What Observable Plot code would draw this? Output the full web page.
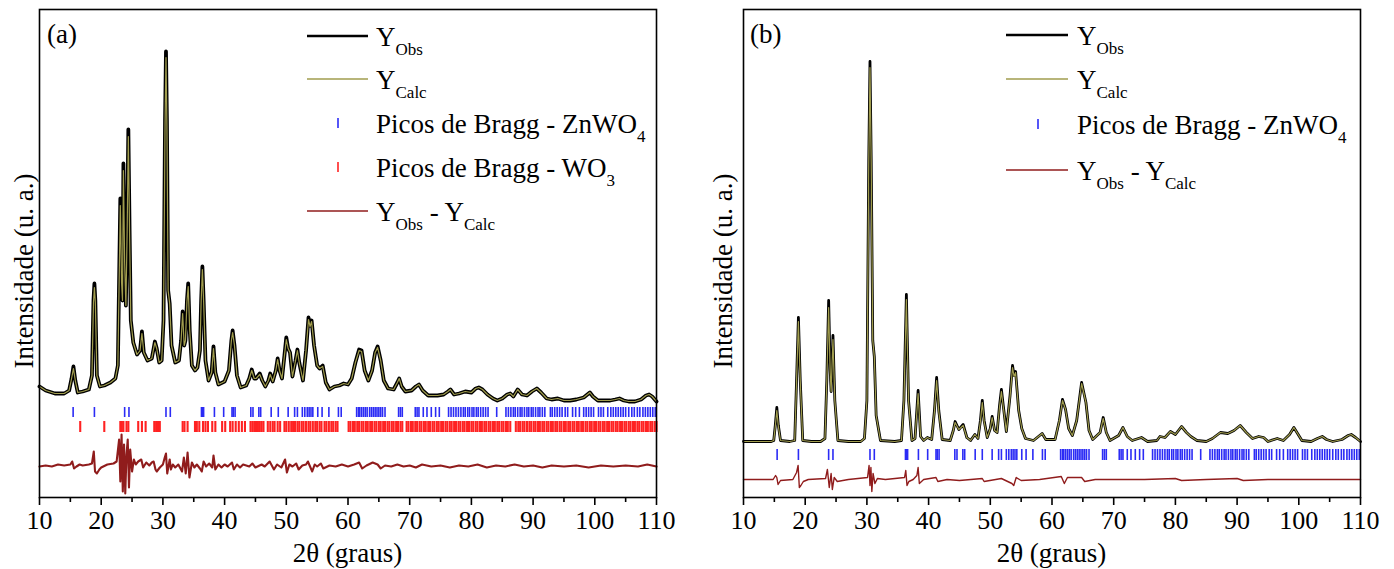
<!DOCTYPE html>
<html><head><meta charset="utf-8">
<script src="https://cdn.jsdelivr.net/npm/d3@7"></script>
<script src="https://cdn.jsdelivr.net/npm/@observablehq/plot@0.6"></script>
<style>
body{margin:0;background:#fff;}
#wrap{display:flex;width:1394px;height:569px;overflow:hidden;}
</style></head><body><div id="wrap"></div>
<script>
// ---------- data ----------
const majorTicks = [10,20,30,40,50,60,70,80,90,100,110];
const minorTicks = [15,25,35,45,55,65,75,85,95,105];

// Panel (a): 2theta (degrees) and intensities (a.u.)
const twoThetaA = [10,11,12.5,14,14.8,15.2,15.5,15.8,16.2,17,
18,18.5,18.75,18.9,19.05,19.3,19.8,20.5,21.5,22.3,
22.7,22.95,23.1,23.3,23.45,23.6,23.8,24,24.2,24.4,
24.6,24.8,25.2,25.8,26.3,26.6,26.9,27.5,28.2,28.5,
28.7,29,29.4,29.8,30.1,30.35,30.5,30.65,30.85,31.1,
31.4,32,32.6,32.95,33.2,33.45,33.65,33.9,34.1,34.35,
34.7,35.2,35.6,36,36.2,36.4,36.6,36.9,37.4,37.9,
38.2,38.5,39,40,40.7,41.1,41.3,41.6,42,42.6,
43.5,44,44.4,44.8,45.1,45.7,46.1,46.6,47.1,47.4,
47.8,48.3,48.6,48.9,49.3,49.7,50,50.3,50.6,51,
51.5,51.8,52.1,52.7,53.2,53.6,53.85,54.1,54.5,55,
55.4,55.9,56.4,57,57.8,58.6,59.3,60,60.6,61.2,
61.8,62.2,62.7,63.3,63.9,64.4,64.8,65.3,65.8,66.5,
67.4,68,68.3,68.7,69.3,70.3,71,71.5,72.1,73,
74.5,75.5,76.2,76.6,77.2,78,79,80,80.7,81.2,
81.8,82.6,83.5,84.2,85,85.8,86.3,86.8,87.5,88.2,
89,89.8,90.6,91.3,92.2,93,94,95,96,97,
98.2,98.8,99.2,99.7,100.5,101.5,102.5,103.3,104,104.7,
105.5,106.5,107.5,108.3,108.8,109.3,110];
const yObsA = [111,107,104,104,107,119,131,117,105,106,
108,122,197,214,197,122,111,112,115,119,
132,237,299,217,197,334,237,192,267,368,
267,177,155,143,147,166,145,137,139,149,
156,149,135,137,177,377,446,377,207,194,
152,135,137,157,186,152,157,197,214,167,
132,127,130,147,197,231,197,137,117,125,
151,125,113,116,127,157,167,152,122,110,
112,119,128,119,119,124,117,111,117,124,
116,127,139,127,119,142,160,149,145,121,
137,148,135,117,147,180,172,177,152,132,
129,132,115,108,111,112,114,113,119,135,
148,147,127,117,127,145,151,137,117,109,
108,115,119,111,106,107,111,113,107,102,
102,103,106,108,103,104,106,105,109,110,
108,103,99,97,99,103,104,101,108,103,
102,106,109,105,99,98,99,97,97,98,
100,103,105,101,97,97,97,98,99,97,
96,96,98,102,103,101,96];
const yCalcA = [111,107,104,104,107,119,129,117,105,106,
108,122,195,210,195,122,111,112,115,119,
132,233,292,215,197,327,235,192,264,361,
264,177,155,143,147,164,145,137,139,149,
155,149,135,137,177,372,440,372,207,194,
152,135,137,157,184,152,157,196,211,167,
132,127,130,147,196,228,196,137,117,125,
149,125,113,116,127,157,165,152,122,110,
112,119,127,119,119,123,117,111,117,123,
116,127,138,127,119,142,158,149,145,121,
137,147,135,117,147,178,171,176,152,132,
129,131,115,108,111,112,114,113,119,135,
147,146,127,117,127,145,150,137,117,109,
108,115,119,111,106,107,111,113,107,102,
102,103,106,108,103,104,106,105,109,110,
108,103,99,97,99,103,104,101,108,103,
102,106,109,105,99,98,99,97,97,98,
100,103,105,101,97,97,97,98,99,97,
96,96,98,102,103,101,96];
const diffThetaA = [10,11,12,13,14,15,15.3,15.6,16,16.5,
17,18,18.5,18.8,19,19.3,19.7,20,21,22,
22.5,22.9,23.1,23.3,23.5,23.7,23.9,24.1,24.3,24.5,
24.7,25,25.3,25.6,26,26.5,26.8,27.3,27.8,28.2,
28.5,28.8,29,29.5,30,30.3,30.5,30.7,31.1,31.3,
31.6,32,32.5,33.1,33.4,33.7,34,34.3,34.7,35.1,
35.5,36,36.3,36.6,37,37.5,38,38.2,38.5,39,
39.5,40,40.5,41.2,41.5,42,42.5,43,44,44.5,
45,46,46.5,47.3,48,48.5,49.2,49.8,50.1,50.5,
51,51.6,52,52.6,53.2,53.5,54.2,54.6,55,55.6,
56,57,58,59,60,61,61.8,62.3,63,64,
64.8,65.3,66,67,68,69,70,71,72,73.5,
75,76.5,78,79.5,81,82.5,84,85.5,87,88.5,
90,91.5,93,95,97,99,101,103,105,107,
108.5,110];
const diffA = [31,32,31,33,32,33,36,29,31,33,
32,33,34,46,26,24,28,30,33,34,
36,58,16,63,6,53,4,43,58,10,
48,26,38,33,36,38,30,35,32,35,
36,28,26,30,33,40,44,24,38,28,
33,30,33,26,40,24,45,20,35,30,
33,29,26,36,31,34,30,42,28,33,
30,33,31,35,28,33,30,33,31,34,
30,33,31,36,28,33,30,38,25,33,
31,34,28,32,33,36,26,33,31,34,
29,32,31,33,31,33,35,29,32,35,
33,29,32,31,33,31,32,30,33,31,
32,30,32,31,33,30,32,31,33,31,
32,30,32,31,32,30,32,31,32,31,
33,31];

// Panel (b)
const twoThetaB = [10,12,14.5,14.9,15.15,15.4,15.65,16,17.5,18.3,
18.6,18.9,19.2,19.6,21,22.5,23.2,23.5,23.8,24.05,
24.2,24.5,24.8,25.3,27,29,29.6,30,30.3,30.5,
30.7,30.95,31.2,31.5,32.2,34.5,35.6,36,36.4,36.75,
37.3,37.8,38.3,38.7,39.2,39.8,40.5,40.95,41.3,41.65,
42.2,43.5,44,44.3,44.9,45.6,46.2,46.8,47.5,48,
48.4,48.7,49,49.5,50,50.3,50.7,51.1,51.5,51.8,
52.1,52.6,53.2,53.6,53.85,54.1,54.6,55.1,55.7,57,
58.4,59,60.5,61.2,61.7,62.2,62.7,63.3,64,64.8,
65.5,66,66.6,67.8,68.3,68.8,69.4,70.8,71.5,72.2,
73,74.5,75.5,77,77.5,78.3,79.2,80,81,81.8,
82.5,83.5,85,86,87.3,88.5,89.5,90.5,91.5,92.5,
93.5,94.3,95,96.5,97.5,98.5,99.2,99.8,100.5,102,
103,103.8,104.5,105.5,107,108,108.5,109.2,110];
const yObsB = [56,56,56,57,72,90,72,57,56,57,
117,180,117,57,56,56,59,117,197,127,
106,162,97,57,56,56,59,97,337,436,
337,157,141,82,57,56,57,97,203,97,
57,59,107,61,57,60,58,87,120,87,
58,57,67,76,68,73,60,57,63,59,
77,97,77,60,69,81,67,65,92,108,
92,66,102,132,122,126,87,69,59,57,
64,58,58,77,98,88,69,62,77,115,
95,67,58,65,80,65,57,62,70,61,
57,60,56,57,61,60,66,63,71,65,
61,57,56,59,65,64,67,72,65,59,
61,60,56,59,57,63,70,64,57,56,
59,61,58,56,58,62,63,60,56];
const yCalcB = [56,56,56,57,71,87,71,57,56,57,
116,176,116,57,56,56,59,116,190,125,
106,158,97,57,56,56,59,97,333,430,
333,157,141,82,57,56,57,96,198,96,
57,59,104,61,57,60,58,86,117,86,
58,57,67,75,68,72,60,57,63,59,
76,95,76,60,69,80,67,65,91,106,
91,66,101,130,121,125,87,69,59,57,
64,58,58,77,97,88,69,62,77,114,
95,67,58,65,79,65,57,62,70,61,
57,60,56,57,61,60,66,63,71,65,
61,57,56,59,65,64,67,72,65,59,
61,60,56,59,57,63,70,64,57,56,
59,61,58,56,58,62,63,60,56];
const diffThetaB = [10,14.8,15.2,15.4,15.6,16,18,18.6,18.85,19.05,
19.3,19.7,20.5,23.3,23.6,23.9,24.2,24.4,24.7,25.2,
27,30.1,30.35,30.5,30.65,30.8,31,31.3,31.7,33,
36.1,36.3,36.5,36.8,37.5,38.1,38.3,38.5,39.2,41.2,
41.5,43,45,48.7,49,51.8,53.5,53.8,54.2,55,
58,61.5,62,62.5,64.8,65.3,67,70,75,80,
81,85,90,91,95,100,105,110];
const diffB = [18,18,22,20,13,17,18,25,32,10,
12,16,18,19,28,10,24,8,20,16,
18,20,32,12,30,6,24,14,19,18,
20,27,12,16,18,22,30,14,18,20,
16,18,17,19,16,19,14,12,20,17,
18,21,14,20,20,16,18,18,18,19,
17,18,19,17,18,18,18,18];

// Bragg reflection positions (2theta)
const braggZnWO4 = [15.45,18.9,23.8,24.5,30.5,31.2,36.25,36.45,36.6,38.35,39.85,41.2,41.4,41.7,44.25,44.6,45.55,45.85,47.55,48.7,
50.3,51.35,51.8,52.6,53.0,53.4,53.7,54.0,54.3,55.1,55.8,56.9,58.45,58.9,61.4,61.7,61.9,62.2,62.5,62.8,
63.1,63.5,63.8,64.1,64.4,64.7,65.0,65.3,65.6,66.0,68.2,68.5,68.8,70.9,71.2,71.5,72.2,72.8,73.5,74.2,
74.8,76.3,76.7,77.1,77.5,77.9,78.3,78.7,79.0,79.4,79.7,80.1,80.4,80.8,81.1,81.5,81.9,82.3,82.7,84.1,
85.6,86.0,86.4,86.8,87.1,87.5,87.9,88.2,88.6,89.0,89.3,89.7,90.0,90.4,90.8,91.1,91.5,91.9,92.8,93.1,
93.5,93.9,94.3,94.7,95.2,95.6,96.4,96.9,97.5,98.2,98.6,99.0,99.4,99.8,100.6,101.0,101.4,102.1,102.6,103.0,
103.4,103.8,104.2,104.6,105.0,105.5,106.0,106.4,106.9,107.3,107.8,108.2,108.6,109.0,109.4,109.8];
const braggWO3 = [16.6,20.5,23.1,23.35,23.6,24.1,24.4,26.0,26.6,27.2,28.6,28.9,29.2,29.5,33.2,33.5,34.0,
35.2,35.5,35.9,36.5,36.9,37.3,38.0,38.5,39.6,40.1,40.9,41.3,41.8,42.3,42.8,43.3,
44.2,44.5,44.8,45.1,45.4,45.7,46.0,46.3,47.0,47.4,47.8,48.1,48.6,49.0,49.7,50.0,50.4,50.8,51.1,51.4,
51.8,52.1,52.5,52.8,53.2,53.6,53.9,54.3,54.7,55.0,55.4,55.7,56.2,56.5,56.9,57.3,57.6,58.0,58.3,
60.1,60.4,60.8,61.1,61.5,61.8,62.2,62.5,62.9,63.2,63.6,63.9,64.3,64.6,65.0,65.3,65.7,66.0,66.4,66.7,
67.1,67.4,67.8,68.1,68.5,68.8,69.5,69.8,70.2,70.5,70.9,71.2,71.6,71.9,72.3,72.6,73.0,73.3,73.7,74.0,
74.4,74.7,75.1,75.4,75.8,76.1,76.5,76.8,77.2,77.5,77.9,78.2,78.6,78.9,79.3,79.6,80.0,80.3,80.7,81.0,
81.4,81.7,82.1,82.4,82.8,83.1,83.5,83.8,84.2,84.5,84.9,85.2,85.6,85.9,86.3,87.2,87.6,87.9,88.3,88.6,
89.0,89.4,89.7,90.1,90.4,90.8,91.1,91.5,91.8,92.2,92.5,92.9,93.2,93.6,93.9,94.3,94.6,95.0,95.3,95.7,
96.0,96.4,96.7,97.1,97.4,97.8,98.1,98.5,98.8,99.2,99.5,99.9,100.2,100.6,100.9,101.3,101.6,102.0,102.3,102.7,
103.0,103.4,103.7,104.1,104.4,104.8,105.1,105.5,105.8,106.2,106.5,106.9,107.2,107.6,107.9,108.3,108.6,109.0,109.3,109.7,110.0];

const legendLabels = {
  obs: [["Y"],["Obs",1]],
  calc: [["Y"],["Calc",1]],
  zn: [["Picos de Bragg - ZnWO"],["4",1]],
  wo: [["Picos de Bragg - WO"],["3",1]],
  diff: [["Y"],["Obs",1],[" - Y"],["Calc",1]]
};

// ---------- drawing ----------
const FONT = "'Liberation Serif', 'Times New Roman', 'DejaVu Serif', serif";
const OBS = "#000", CALC = "#a19d4e", DIFF = "#901c1c", BLUE = "#2b2bf5", RED = "#ff2222";

function drawPanel(cfg) {
  const W = 697, H = 569;
  const curve = cfg.tt.map((x, i) => ({x, obs: cfg.obs[i], calc: cfg.calc[i]}));
  const diff = cfg.dX.map((x, i) => ({x, y: cfg.dY[i]}));
  const marks = [];
  for (const ph of cfg.phases) marks.push(Plot.ruleX(ph.pos, {y1: ph.y1, y2: ph.y2, stroke: ph.color, strokeWidth: ph.w}));
  marks.push(Plot.line(diff, {x: "x", y: "y", stroke: DIFF, strokeWidth: cfg.diffW}));
  marks.push(Plot.line(curve, {x: "x", y: "obs", stroke: OBS, strokeWidth: cfg.obsW}));
  marks.push(Plot.line(curve, {x: "x", y: "calc", stroke: CALC, strokeWidth: 1.2}));
  marks.push(Plot.frame({stroke: "#000", strokeWidth: 1.6}));
  marks.push(Plot.axisX({ticks: majorTicks, tickSize: 8, tickPadding: 5, fontSize: 26, tickFormat: d => String(d), label: null, strokeWidth: 1.6}));
  marks.push(Plot.axisX({ticks: minorTicks, tickSize: 5, tickFormat: () => "", label: null, strokeWidth: 1.6}));
  const svg = Plot.plot({
    width: W, height: H, marginTop: 9, marginBottom: 72, marginLeft: cfg.ml, marginRight: cfg.mr,
    x: {domain: [10, 110]}, y: {domain: [0, 488], axis: null},
    style: {color: "#000", background: "#fff", overflow: "visible"},
    marks
  });
  const s = d3.select(svg);
  const g = s.append("g").attr("fill", "#000").attr("text-anchor", "start");
  // panel tag
  g.append("text").attr("x", cfg.tagX).attr("y", 43).attr("font-size", 27).text(cfg.tag);
  // axis titles
  g.append("text").attr("x", cfg.ml + (W - cfg.ml - cfg.mr) / 2).attr("y", 562)
    .attr("text-anchor", "middle").attr("font-size", 27).text("2θ (graus)");
  g.append("text").attr("transform", `translate(${cfg.yTitleX},271) rotate(-90)`)
    .attr("text-anchor", "middle").attr("dominant-baseline", "central").attr("font-size", 27)
    .text("Intensidade (u. a.)");
  // legend
  cfg.legend.forEach((it, i) => {
    const y = cfg.rows[i];
    if (it.kind === "line") {
      g.append("line").attr("x1", cfg.lx1).attr("x2", cfg.lx2).attr("y1", y).attr("y2", y)
        .attr("stroke", it.color).attr("stroke-width", it.w);
    } else {
      g.append("line").attr("x1", cfg.mx).attr("x2", cfg.mx).attr("y1", y - 5).attr("y2", y + 5)
        .attr("stroke", it.color).attr("stroke-width", 1.6);
    }
    const t = g.append("text").attr("x", cfg.tx).attr("y", y + 10).attr("font-size", 27).attr("text-anchor", "start");
    let cur = 0;
    for (const [str, sub] of it.label) {
      const target = sub ? 9 : 0;
      t.append("tspan").attr("dy", target - cur).attr("font-size", sub ? 17 : 27).text(str);
      cur = target;
    }
  });
  // force serif font on every text element
  s.selectAll("text, tspan").style("font-family", FONT);
  document.getElementById("wrap").appendChild(svg);
}

drawPanel({
  tt: twoThetaA, obs: yObsA, calc: yCalcA, dX: diffThetaA, dY: diffA,
  obsW: 3.8, diffW: 2.1, ml: 39, mr: 41, tag: "(a)", tagX: 47, yTitleX: 24,
  phases: [
    {pos: braggZnWO4, y1: 80, y2: 90, color: BLUE, w: 1.6},
    {pos: braggWO3, y1: 65, y2: 76, color: RED, w: 2.1}
  ],
  rows: [36, 79, 123, 167, 211], lx1: 307, lx2: 368, mx: 338, tx: 376,
  legend: [
    {kind: "line", color: OBS, w: 2.5, label: legendLabels.obs},
    {kind: "line", color: CALC, w: 1.6, label: legendLabels.calc},
    {kind: "tick", color: BLUE, label: legendLabels.zn},
    {kind: "tick", color: RED, label: legendLabels.wo},
    {kind: "line", color: DIFF, w: 1.4, label: legendLabels.diff}
  ]
});
drawPanel({
  tt: twoThetaB, obs: yObsB, calc: yCalcB, dX: diffThetaB, dY: diffB,
  obsW: 2.8, diffW: 1.4, ml: 46, mr: 34, tag: "(b)", tagX: 53, yTitleX: 26,
  phases: [
    {pos: braggZnWO4, y1: 37, y2: 48, color: BLUE, w: 1.6}
  ],
  rows: [35, 79, 124, 170], lx1: 309, lx2: 371, mx: 341, tx: 380,
  legend: [
    {kind: "line", color: OBS, w: 2.5, label: legendLabels.obs},
    {kind: "line", color: CALC, w: 1.6, label: legendLabels.calc},
    {kind: "tick", color: BLUE, label: legendLabels.zn},
    {kind: "line", color: DIFF, w: 1.4, label: legendLabels.diff}
  ]
});
</script></body></html>
